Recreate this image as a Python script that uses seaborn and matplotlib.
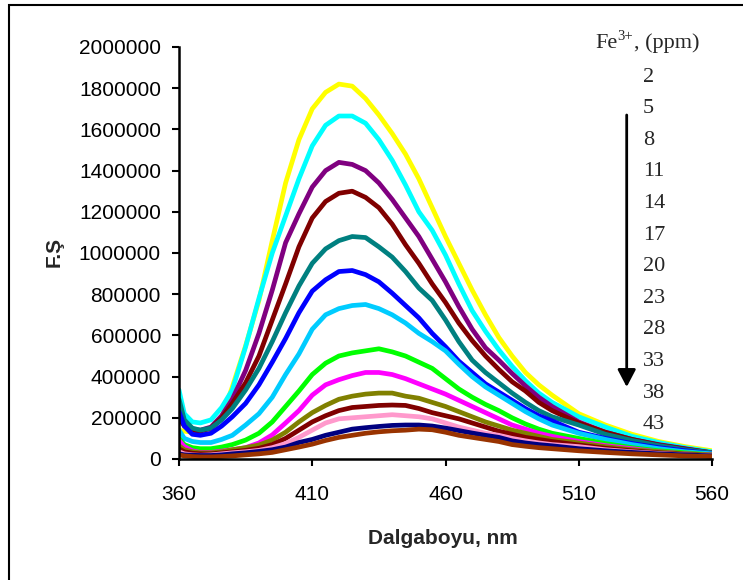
import matplotlib
matplotlib.use("Agg")
import matplotlib.pyplot as plt
from matplotlib.patches import Rectangle
import numpy as np
import pandas as pd
import seaborn as sns

# Emission wavelengths (nm) shared by every spectrum
wavelength_nm = [360, 362, 365, 368, 372, 376, 380, 385, 390, 395, 400, 405, 410,
                 415, 420, 425, 430, 435, 440, 445, 450, 455, 460, 465, 470, 475,
                 480, 485, 490, 495, 500, 510, 520, 530, 540, 550, 560]

# Fluorescence intensity of each spectrum, in millions of counts
yellow_fs = [0.14, 0.135, 0.13, 0.13, 0.14, 0.20, 0.35, 0.55, 0.77, 1.06, 1.34, 1.55, 1.70,
             1.78, 1.82, 1.81, 1.75, 1.67, 1.58, 1.48, 1.36, 1.22, 1.08, 0.95, 0.82, 0.70,
             0.59, 0.50, 0.42, 0.36, 0.31, 0.22, 0.165, 0.12, 0.085, 0.06, 0.04]
cyan_fs = [0.335, 0.22, 0.18, 0.175, 0.19, 0.25, 0.335, 0.545, 0.78, 1.00, 1.18, 1.36, 1.52,
           1.62, 1.665, 1.665, 1.63, 1.55, 1.45, 1.33, 1.20, 1.11, 0.99, 0.85, 0.72, 0.62,
           0.53, 0.45, 0.38, 0.32, 0.275, 0.205, 0.155, 0.11, 0.08, 0.055, 0.035]
purple_fs = [0.22, 0.17, 0.145, 0.14, 0.155, 0.21, 0.29, 0.43, 0.61, 0.82, 1.05, 1.19, 1.32,
             1.40, 1.44, 1.43, 1.40, 1.34, 1.26, 1.17, 1.08, 0.97, 0.86, 0.74, 0.63, 0.54,
             0.48, 0.415, 0.355, 0.30, 0.255, 0.18, 0.13, 0.095, 0.07, 0.05, 0.03]
maroon_fs = [0.20, 0.16, 0.14, 0.135, 0.15, 0.20, 0.27, 0.37, 0.50, 0.675, 0.85, 1.03, 1.17,
             1.25, 1.29, 1.30, 1.27, 1.22, 1.14, 1.04, 0.95, 0.85, 0.76, 0.66, 0.575, 0.50,
             0.435, 0.375, 0.33, 0.275, 0.235, 0.175, 0.13, 0.095, 0.068, 0.048, 0.03]
teal_fs = [0.29, 0.19, 0.15, 0.14, 0.15, 0.19, 0.245, 0.335, 0.44, 0.57, 0.71, 0.84, 0.95,
           1.02, 1.06, 1.08, 1.075, 1.03, 0.98, 0.91, 0.83, 0.77, 0.675, 0.57, 0.48, 0.42,
           0.37, 0.32, 0.275, 0.235, 0.205, 0.165, 0.12, 0.09, 0.065, 0.045, 0.03]
blue_fs = [0.23, 0.16, 0.12, 0.115, 0.125, 0.16, 0.205, 0.27, 0.36, 0.47, 0.585, 0.71, 0.815,
           0.87, 0.91, 0.915, 0.895, 0.86, 0.805, 0.745, 0.685, 0.61, 0.545, 0.475, 0.42, 0.365,
           0.325, 0.285, 0.245, 0.21, 0.185, 0.13, 0.10, 0.075, 0.055, 0.04, 0.025]
skyblue_fs = [0.14, 0.10, 0.085, 0.08, 0.08, 0.095, 0.115, 0.165, 0.22, 0.30, 0.41, 0.51, 0.63,
              0.70, 0.73, 0.745, 0.75, 0.73, 0.70, 0.66, 0.61, 0.57, 0.525, 0.46, 0.40, 0.35,
              0.31, 0.27, 0.23, 0.195, 0.165, 0.125, 0.095, 0.07, 0.05, 0.035, 0.025]
green_fs = [0.10, 0.07, 0.055, 0.05, 0.05, 0.058, 0.07, 0.092, 0.125, 0.18, 0.255, 0.33, 0.41,
            0.465, 0.50, 0.515, 0.525, 0.535, 0.52, 0.50, 0.47, 0.44, 0.39, 0.34, 0.30, 0.265,
            0.235, 0.20, 0.17, 0.145, 0.125, 0.10, 0.075, 0.055, 0.04, 0.03, 0.02]
magenta_fs = [0.09, 0.06, 0.04, 0.032, 0.032, 0.038, 0.045, 0.055, 0.078, 0.117, 0.175, 0.235, 0.31,
              0.36, 0.385, 0.405, 0.42, 0.42, 0.41, 0.39, 0.365, 0.34, 0.315, 0.285, 0.255, 0.225,
              0.195, 0.165, 0.145, 0.125, 0.11, 0.085, 0.065, 0.05, 0.035, 0.025, 0.02]
olive_fs = [0.065, 0.045, 0.035, 0.03, 0.03, 0.035, 0.045, 0.055, 0.068, 0.092, 0.13, 0.18, 0.225,
            0.26, 0.29, 0.305, 0.315, 0.32, 0.32, 0.305, 0.295, 0.275, 0.255, 0.23, 0.205, 0.18,
            0.16, 0.14, 0.125, 0.11, 0.095, 0.078, 0.06, 0.045, 0.035, 0.025, 0.02]
darkred_fs = [0.05, 0.035, 0.028, 0.025, 0.025, 0.03, 0.035, 0.042, 0.052, 0.07, 0.10, 0.14, 0.18,
              0.21, 0.235, 0.25, 0.255, 0.26, 0.262, 0.26, 0.245, 0.225, 0.21, 0.195, 0.175, 0.155,
              0.135, 0.12, 0.105, 0.095, 0.085, 0.068, 0.052, 0.04, 0.03, 0.022, 0.015]
pink_fs = [0.035, 0.025, 0.02, 0.018, 0.02, 0.025, 0.03, 0.035, 0.042, 0.055, 0.075, 0.105, 0.14,
           0.175, 0.195, 0.20, 0.205, 0.21, 0.215, 0.21, 0.205, 0.195, 0.175, 0.155, 0.14, 0.125,
           0.115, 0.10, 0.088, 0.078, 0.07, 0.06, 0.045, 0.035, 0.027, 0.02, 0.015]
navy_fs = [0.025, 0.02, 0.018, 0.017, 0.017, 0.02, 0.025, 0.03, 0.037, 0.045, 0.058, 0.08, 0.095,
           0.115, 0.13, 0.145, 0.152, 0.158, 0.163, 0.165, 0.165, 0.16, 0.15, 0.138, 0.126, 0.115,
           0.105, 0.088, 0.078, 0.07, 0.064, 0.05, 0.04, 0.032, 0.025, 0.02, 0.015]
brown_fs = [0.02, 0.015, 0.012, 0.01, 0.01, 0.012, 0.015, 0.02, 0.025, 0.032, 0.045, 0.058, 0.072,
            0.09, 0.105, 0.115, 0.125, 0.132, 0.137, 0.14, 0.145, 0.142, 0.13, 0.115, 0.105, 0.095,
            0.085, 0.07, 0.062, 0.055, 0.05, 0.04, 0.032, 0.025, 0.02, 0.015, 0.012]

spectra = [yellow_fs, cyan_fs, purple_fs, maroon_fs, teal_fs, blue_fs, skyblue_fs,
           green_fs, magenta_fs, olive_fs, darkred_fs, pink_fs, navy_fs, brown_fs]
line_colors = ["#FFFF00", "#00FFFF", "#800080", "#800000", "#008080", "#0000FF", "#00CCFF",
               "#00FF00", "#FF00FF", "#808000", "#800000", "#FF99CC", "#000080", "#993300"]

# Fe3+ concentrations listed beside the plot
fe_ppm = [2, 5, 8, 11, 14, 17, 20, 23, 28, 33, 38, 43]

x_ticks = [360, 410, 460, 510, 560]
y_ticks = [0, 200000, 400000, 600000, 800000, 1000000, 1200000, 1400000,
           1600000, 1800000, 2000000]

MILLION = 1e6

sns.set_theme(style="ticks")
plt.rcParams["font.family"] = ["Liberation Sans", "DejaVu Sans"]

curve_names = [f"curve{i:02d}" for i in range(len(spectra))]
frames = []
for name, values in zip(curve_names, spectra):
    frames.append(pd.DataFrame({
        "nm": wavelength_nm,
        "fs": np.asarray(values) * MILLION,
        "curve": name,
    }))
data = pd.concat(frames, ignore_index=True)

W, H = 743, 580
fig = plt.figure(figsize=(W / 100, H / 100), dpi=100)
ax = fig.add_axes([179 / W, 1 - 459 / H, (712 - 179) / W, (459 - 47) / H])

sns.lineplot(data=data, x="nm", y="fs", hue="curve", hue_order=curve_names,
             palette=line_colors, estimator=None, sort=False, linewidth=3.4,
             legend=False, ax=ax)

ax.set_xlim(360, 560)
ax.set_ylim(0, 2000000)
ax.set_xticks(x_ticks)
ax.set_xticklabels([str(v) for v in x_ticks])
ax.set_yticks(y_ticks)
ax.set_yticklabels([str(v) for v in y_ticks])
ax.set_xlabel("")
ax.set_ylabel("")

for side in ("top", "right"):
    ax.spines[side].set_visible(False)
for side in ("left", "bottom"):
    ax.spines[side].set_linewidth(1.8)
    ax.spines[side].set_color("black")

ax.tick_params(axis="both", direction="out", length=5, width=1.5, colors="black",
               labelsize=15)
ax.tick_params(axis="x", pad=14)
ax.tick_params(axis="y", pad=8)

fig.text(443 / W, 1 - 539 / H, "Dalgaboyu, nm", ha="center", va="center",
         fontsize=15, fontweight="bold")
fig.text(54 / W, 1 - 252 / H, "F.Ş", ha="center", va="center", rotation=90,
         fontsize=15, fontweight="bold")

# Concentration heading: "Fe", raised "3+", then ", (ppm)"
serif = ["Liberation Serif", "DejaVu Serif"]
renderer = fig.canvas.get_renderer()
base_y = 1 - 48.3 / H
t_fe = fig.text(595 / W, base_y, "Fe", ha="left", va="baseline", family=serif, fontsize=16)
fe_right = t_fe.get_window_extent(renderer).x1
t_sup = fig.text((fe_right + 0.5) / W, 1 - 40.5 / H, "3+", ha="left", va="baseline",
                 family=serif, fontsize=10.5)
sup_right = t_sup.get_window_extent(renderer).x1
fig.text((sup_right + 0.3) / W, base_y, ", (ppm)", ha="left", va="baseline",
         family=serif, fontsize=16)

for i, ppm in enumerate(fe_ppm):
    fig.text(643 / W, 1 - (81.7 + i * 31.6) / H, str(ppm), ha="left", va="baseline",
             family=serif, fontsize=16)

ax.annotate("", xy=(626.7, H - 387), xytext=(626.7, H - 115),
            xycoords="figure pixels", textcoords="figure pixels",
            arrowprops=dict(arrowstyle="-|>,head_length=1.05,head_width=0.55",
                            mutation_scale=10, lw=2, color="black",
                            shrinkA=0, shrinkB=0),
            annotation_clip=False)

frame = Rectangle((9 / W, -0.05), 1.2, 1 - 4.5 / H + 0.05, transform=fig.transFigure,
                  fill=False, edgecolor="black", linewidth=1.5, clip_on=False)
fig.add_artist(frame)

fig.savefig("out.png", dpi=100)
